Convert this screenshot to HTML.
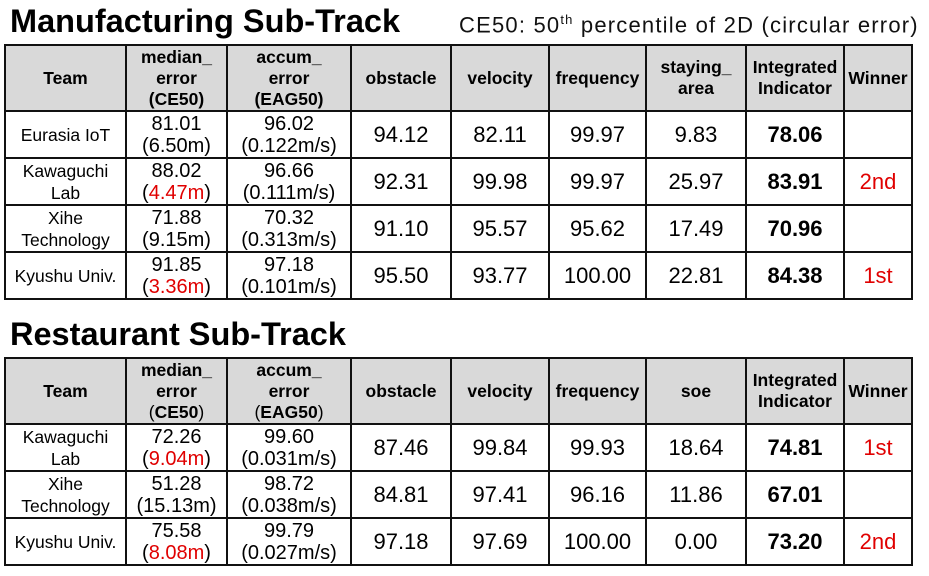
<!DOCTYPE html>
<html><head><meta charset="utf-8"><style>
body{margin:0;width:929px;height:576px;background:#fff;position:relative;overflow:hidden;font-family:"Liberation Sans",sans-serif;color:#000}
h1{position:absolute;margin:0;font-size:32.5px;font-weight:bold;left:10px;letter-spacing:0}
.note{position:absolute;left:459px;top:12px;font-size:22px;color:#111;letter-spacing:1.2px;white-space:nowrap}
.note sup{font-size:13px}
table{position:absolute;left:4px;border-collapse:collapse;table-layout:fixed;width:907px}
td,th{border:2px solid #111;text-align:center;padding:0;line-height:22px}
th{background:#d9d9d9;font-size:17.5px;font-weight:bold;height:64px;line-height:21px}
td{font-size:22px;height:45px}
td.t{font-size:17.5px;line-height:22px}
td.s{font-size:20px;line-height:22px}
td.b{font-weight:bold}
.r{color:#e00000}
</style></head><body>
<h1 style="top:3px">Manufacturing Sub-Track</h1>
<div class="note">CE50: 50<sup>th</sup> percentile of 2D (circular error)</div>
<table style="top:44px">
<colgroup><col style="width:121px"><col style="width:101px"><col style="width:124px"><col style="width:100px"><col style="width:98px"><col style="width:97px"><col style="width:100px"><col style="width:98px"><col style="width:68px"></colgroup>
<tr><th>Team</th><th>median_<br>error<br>(CE50)</th><th>accum_<br>error<br>(EAG50)</th><th>obstacle</th><th>velocity</th><th>frequency</th><th>staying_<br>area</th><th>Integrated<br>Indicator</th><th>Winner</th></tr>
<tr><td class="t">Eurasia IoT</td><td class="s">81.01<br>(6.50m)</td><td class="s">96.02<br>(0.122m/s)</td><td>94.12</td><td>82.11</td><td>99.97</td><td>9.83</td><td class="b">78.06</td><td></td></tr>
<tr><td class="t">Kawaguchi<br>Lab</td><td class="s">88.02<br>(<span class="r">4.47m</span>)</td><td class="s">96.66<br>(0.111m/s)</td><td>92.31</td><td>99.98</td><td>99.97</td><td>25.97</td><td class="b">83.91</td><td class="r">2nd</td></tr>
<tr><td class="t">Xihe<br>Technology</td><td class="s">71.88<br>(9.15m)</td><td class="s">70.32<br>(0.313m/s)</td><td>91.10</td><td>95.57</td><td>95.62</td><td>17.49</td><td class="b">70.96</td><td></td></tr>
<tr><td class="t">Kyushu Univ.</td><td class="s">91.85<br>(<span class="r">3.36m</span>)</td><td class="s">97.18<br>(0.101m/s)</td><td>95.50</td><td>93.77</td><td>100.00</td><td>22.81</td><td class="b">84.38</td><td class="r">1st</td></tr>
</table>
<h1 style="top:316px">Restaurant Sub-Track</h1>
<table style="top:357px">
<colgroup><col style="width:121px"><col style="width:101px"><col style="width:124px"><col style="width:100px"><col style="width:98px"><col style="width:97px"><col style="width:100px"><col style="width:98px"><col style="width:68px"></colgroup>
<tr><th>Team</th><th>median_<br>error<br><span style="font-weight:normal">(</span>CE50<span style="font-weight:normal">)</span></th><th>accum_<br>error<br><span style="font-weight:normal">(</span>EAG50<span style="font-weight:normal">)</span></th><th>obstacle</th><th>velocity</th><th>frequency</th><th>soe</th><th>Integrated<br>Indicator</th><th>Winner</th></tr>
<tr><td class="t">Kawaguchi<br>Lab</td><td class="s">72.26<br>(<span class="r">9.04m</span>)</td><td class="s">99.60<br>(0.031m/s)</td><td>87.46</td><td>99.84</td><td>99.93</td><td>18.64</td><td class="b">74.81</td><td class="r">1st</td></tr>
<tr><td class="t">Xihe<br>Technology</td><td class="s">51.28<br>(15.13m)</td><td class="s">98.72<br>(0.038m/s)</td><td>84.81</td><td>97.41</td><td>96.16</td><td>11.86</td><td class="b">67.01</td><td></td></tr>
<tr><td class="t">Kyushu Univ.</td><td class="s">75.58<br>(<span class="r">8.08m</span>)</td><td class="s">99.79<br>(0.027m/s)</td><td>97.18</td><td>97.69</td><td>100.00</td><td>0.00</td><td class="b">73.20</td><td class="r">2nd</td></tr>
</table>
</body></html>
